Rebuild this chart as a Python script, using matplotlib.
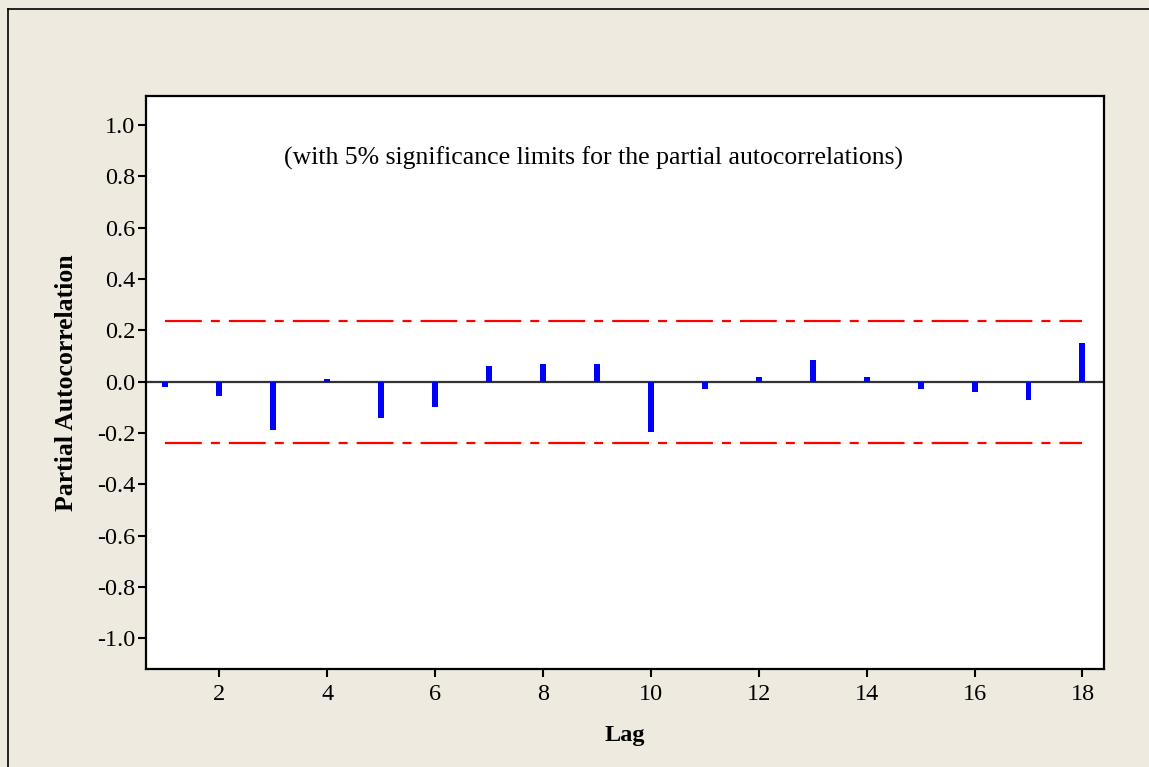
import numpy as np
import matplotlib
matplotlib.use("Agg")
import matplotlib.pyplot as plt
from matplotlib.lines import Line2D

plt.rcParams['font.family'] = ['Liberation Serif', 'DejaVu Serif']
plt.rcParams['axes.unicode_minus'] = False
plt.rcParams['lines.scale_dashes'] = False

# partial autocorrelations
lags = np.arange(1, 19)
pacf = [-0.02, -0.055, -0.19, 0.01, -0.14, -0.10, 0.062, 0.07, 0.07,
        -0.195, -0.03, 0.017, 0.085, 0.017, -0.03, -0.04, -0.07, 0.15]
limit = 0.238

yticks = [-1.0, -0.8, -0.6, -0.4, -0.2, 0.0, 0.2, 0.4, 0.6, 0.8, 1.0]
ytick_labels = ['-1.0', '-0.8', '-0.6', '-0.4', '-0.2', '0.0', '0.2', '0.4', '0.6', '0.8', '1.0']
xticks = np.arange(2, 19, 2)

bg = '#EEEAE0'
fig = plt.figure(figsize=(11.49, 7.67), dpi=100, facecolor=bg)
ax = fig.add_axes([146/1149, 98/767, 958/1149, 573/767])
ax.set_facecolor('white')

ax.bar(lags, pacf, width=0.11, color='#0000FF', zorder=3)
ax.axhline(0, color='#333333', lw=1.6, zorder=2)
ax.plot(lags, [limit]*len(lags), color='#FF0000', lw=1.6, dashes=[26.5, 6.5, 6.5, 6.5])
ax.plot(lags, [-limit]*len(lags), color='#FF0000', lw=1.6, dashes=[26.5, 6.5, 6.5, 6.5])

ax.set_xlim(0.64, 18.4)
ax.set_ylim(-1.12, 1.113)
ax.set_yticks(yticks)
ax.set_yticklabels(ytick_labels)
ax.set_xticks(xticks)
ax.tick_params(direction='out', length=6, width=1.5, labelsize=17.5)
ax.tick_params(axis='y', pad=1.5)
ax.tick_params(axis='x', pad=5)
for s in ax.spines.values():
    s.set_linewidth(1.6)

ax.set_xlabel('Lag', fontsize=17.5, fontweight='bold', labelpad=14)
ax.set_ylabel('Partial Autocorrelation', fontsize=18.5, fontweight='bold', labelpad=14)

ax.text(594/1149, 1 - 158/767,
        '(with 5% significance limits for the partial autocorrelations)',
        transform=fig.transFigure, fontsize=18.5, ha='center', va='center')

# frame around the figure (top and left edges)
fig.add_artist(Line2D([8/1149, 1], [1 - 9/767, 1 - 9/767], color='black', lw=1.2))
fig.add_artist(Line2D([8/1149, 8/1149], [0, 1 - 9/767], color='black', lw=1.2))

fig.savefig('out.png', dpi=100, facecolor=bg)
